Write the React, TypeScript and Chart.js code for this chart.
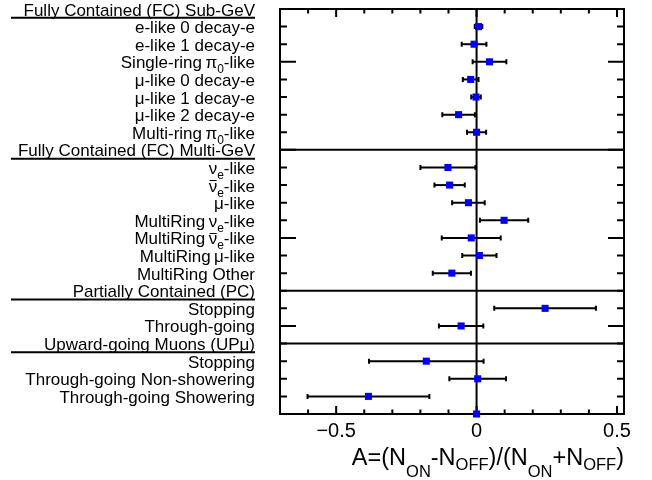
import React, { useEffect, useRef } from "react";
import { Chart, registerables } from "chart.js";

Chart.register(...registerables);

// ---- data ----
const rowLabels: string[] = [
  "Fully Contained (FC) Sub-GeV",
  "e-like 0 decay-e",
  "e-like 1 decay-e",
  "Single-ring\u2009π_{0}-like",
  "μ-like 0 decay-e",
  "μ-like 1 decay-e",
  "μ-like 2 decay-e",
  "Multi-ring\u2009π_{0}-like",
  "Fully Contained (FC) Multi-GeV",
  "ν_{e}-like",
  "#bar{ν}_{e}-like",
  "μ-like",
  "MultiRing\u2009ν_{e}-like",
  "MultiRing\u2009#bar{ν}_{e}-like",
  "MultiRing\u2009μ-like",
  "MultiRing Other",
  "Partially Contained (PC)",
  "Stopping",
  "Through-going",
  "Upward-going Muons (UPμ)",
  "Stopping",
  "Through-going Non-showering",
  "Through-going Showering",
  "",
];

const headerRows: number[] = [0, 8, 16, 19];

const asymmetry: (number | null)[] = [
  null, 0.007, -0.009, 0.046, -0.021, -0.002, -0.064, 0.0,
  null, -0.102, -0.096, -0.029, 0.098, -0.019, 0.01, -0.088,
  null, 0.244, -0.055,
  null, -0.179, 0.004, -0.385,
  0.0,
];

const asymmetryErr: number[] = [
  0, 0.0135, 0.044, 0.06, 0.028, 0.017, 0.058, 0.034,
  0, 0.098, 0.054, 0.058, 0.086, 0.105, 0.061, 0.068,
  0, 0.181, 0.079,
  0, 0.204, 0.101, 0.217,
  0,
];

const xMajorTicks: number[] = [-0.5, 0, 0.5];
const xMajorTickLabels: string[] = ["\u22120.5", "0", "0.5"];
const xMinorTicks: number[] = [-0.6, -0.4, -0.3, -0.2, -0.1, 0.1, 0.2, 0.3, 0.4];
const yLongTickRows: number[] = [3, 8, 13, 18];
const xAxisTitle = "A=(N_{ON}-N_{OFF})/(N_{ON}+N_{OFF})";

const FONT = '"Liberation Sans", Arial, Helvetica, sans-serif';

type Seg = { text: string; kind: "n" | "sub" | "bar" };

function parseRich(s: string): Seg[] {
  const segs: Seg[] = [];
  let buf = "";
  let i = 0;
  const flush = () => {
    if (buf) segs.push({ text: buf, kind: "n" });
    buf = "";
  };
  while (i < s.length) {
    if (s.startsWith("#bar{", i)) {
      flush();
      const j = s.indexOf("}", i);
      segs.push({ text: s.slice(i + 5, j), kind: "bar" });
      i = j + 1;
    } else if (s.startsWith("_{", i)) {
      flush();
      const j = s.indexOf("}", i);
      segs.push({ text: s.slice(i + 2, j), kind: "sub" });
      i = j + 1;
    } else {
      buf += s[i];
      i++;
    }
  }
  flush();
  return segs;
}

function drawRich(
  ctx: CanvasRenderingContext2D,
  s: string,
  xRight: number,
  baseline: number,
  size: number,
  subSize: number,
  subOffset: (t: string) => number
) {
  const segs = parseRich(s);
  const mainFont = `${size}px ${FONT}`;
  const subFont = `${subSize}px ${FONT}`;
  const widths = segs.map((g) => {
    ctx.font = g.kind === "sub" ? subFont : mainFont;
    return ctx.measureText(g.text).width;
  });
  const total = widths.reduce((a, b) => a + b, 0);
  let x = xRight - total;
  ctx.textAlign = "left";
  ctx.textBaseline = "alphabetic";
  segs.forEach((g, k) => {
    if (g.kind === "sub") {
      ctx.font = subFont;
      ctx.fillText(g.text, x, baseline + subOffset(g.text));
    } else {
      ctx.font = mainFont;
      ctx.fillText(g.text, x, baseline);
      if (g.kind === "bar") {
        const yb = Math.round(baseline - size * 0.68) + 0.5;
        ctx.beginPath();
        ctx.lineWidth = 1;
        ctx.moveTo(x + 1, yb);
        ctx.lineTo(x + widths[k] - 0.5, yb);
        ctx.stroke();
      }
    }
    x += widths[k];
  });
}

const rootPlugin = {
  id: "rootStyle",
  beforeDatasetsDraw(chart: any) {
    const { ctx, chartArea: a, scales } = chart;
    const x = scales.x;
    const y = scales.y;
    ctx.save();
    ctx.strokeStyle = "#000";
    ctx.fillStyle = "#000";
    ctx.lineWidth = 2;
    // section separators
    headerRows.forEach((r) => {
      if (r === 0) return;
      const py = y.getPixelForValue(r);
      ctx.beginPath();
      ctx.moveTo(a.left, py);
      ctx.lineTo(a.right, py);
      ctx.stroke();
    });
    // zero line
    const px0 = x.getPixelForValue(0);
    ctx.beginPath();
    ctx.moveTo(px0, a.top);
    ctx.lineTo(px0, a.bottom);
    ctx.stroke();
    // frame
    ctx.strokeRect(a.left, a.top, a.right - a.left, a.bottom - a.top);
    // x ticks (top and bottom, inward)
    const xTick = (v: number, len: number) => {
      const px = x.getPixelForValue(v);
      ctx.beginPath();
      ctx.moveTo(px, a.bottom);
      ctx.lineTo(px, a.bottom - len);
      ctx.moveTo(px, a.top);
      ctx.lineTo(px, a.top + len);
      ctx.stroke();
    };
    xMajorTicks.forEach((v) => xTick(v, 8));
    xMinorTicks.forEach((v) => xTick(v, 4.5));
    // y ticks (left and right, inward)
    for (let r = 1; r < rowLabels.length - 1; r++) {
      const len = yLongTickRows.includes(r) ? 16 : 7;
      const py = y.getPixelForValue(r);
      ctx.beginPath();
      ctx.moveTo(a.left, py);
      ctx.lineTo(a.left + len, py);
      ctx.moveTo(a.right, py);
      ctx.lineTo(a.right - len, py);
      ctx.stroke();
    }
    // error bars
    asymmetry.forEach((v, i) => {
      if (v === null || !asymmetryErr[i]) return;
      const e = asymmetryErr[i];
      const py = y.getPixelForValue(i);
      const x1 = x.getPixelForValue(v - e);
      const x2 = x.getPixelForValue(v + e);
      ctx.lineWidth = 2;
      ctx.beginPath();
      ctx.moveTo(x1, py);
      ctx.lineTo(x2, py);
      ctx.stroke();
      ctx.beginPath();
      ctx.moveTo(x1, py - 2.5);
      ctx.lineTo(x1, py + 2.5);
      ctx.moveTo(x2, py - 2.5);
      ctx.lineTo(x2, py + 2.5);
      ctx.stroke();
    });
    // x tick labels
    ctx.font = `20px ${FONT}`;
    ctx.textAlign = "center";
    ctx.textBaseline = "alphabetic";
    xMajorTicks.forEach((v, i) => {
      ctx.fillText(xMajorTickLabels[i], x.getPixelForValue(v), a.bottom + 22.5);
    });
    // x title
    drawRich(ctx, xAxisTitle, a.right, a.bottom + 50.5, 23.5, 16.5, (t) =>
      t === "ON" ? 12 : 5
    );
    // row labels
    const labelRight = a.left - 25;
    rowLabels.forEach((lab, r) => {
      if (!lab) return;
      const py = y.getPixelForValue(r);
      drawRich(ctx, lab, labelRight, py + 6.5, 17, 12, () => 5);
      if (headerRows.includes(r)) {
        const uy = y.getPixelForValue(r + 0.5);
        ctx.lineWidth = 2;
        ctx.beginPath();
        ctx.moveTo(11, uy);
        ctx.lineTo(labelRight, uy);
        ctx.stroke();
      }
    });
    ctx.restore();
  },
};

export default function App() {
  const ref = useRef<HTMLCanvasElement | null>(null);
  useEffect(() => {
    document.body.style.margin = "0";
    const canvas = ref.current!;
    const points = asymmetry
      .map((v, i) => (v === null ? null : { x: v, y: i }))
      .filter((p) => p !== null);
    const chart = new Chart(canvas, {
      type: "scatter",
      data: {
        datasets: [
          {
            data: points as any,
            pointStyle: "rect",
            pointRadius: 5,
            pointBackgroundColor: "#0000ff",
            pointBorderWidth: 0,
            pointBorderColor: "#0000ff",
            clip: false,
          } as any,
        ],
      },
      options: {
        responsive: false,
        animation: false,
        devicePixelRatio: 1,
        layout: { padding: { left: 280, top: 9, right: 28, bottom: 66 } },
        plugins: { legend: { display: false }, tooltip: { enabled: false } },
        scales: {
          x: { type: "linear", min: -0.7, max: 0.525, display: false },
          y: { type: "linear", min: 0, max: rowLabels.length - 1, reverse: true, display: false },
        },
      },
      plugins: [rootPlugin],
    });
    return () => chart.destroy();
  }, []);
  return (
    <canvas
      ref={ref}
      width={652}
      height={480}
      style={{ display: "block", width: 652, height: 480, background: "#fff" }}
    />
  );
}
